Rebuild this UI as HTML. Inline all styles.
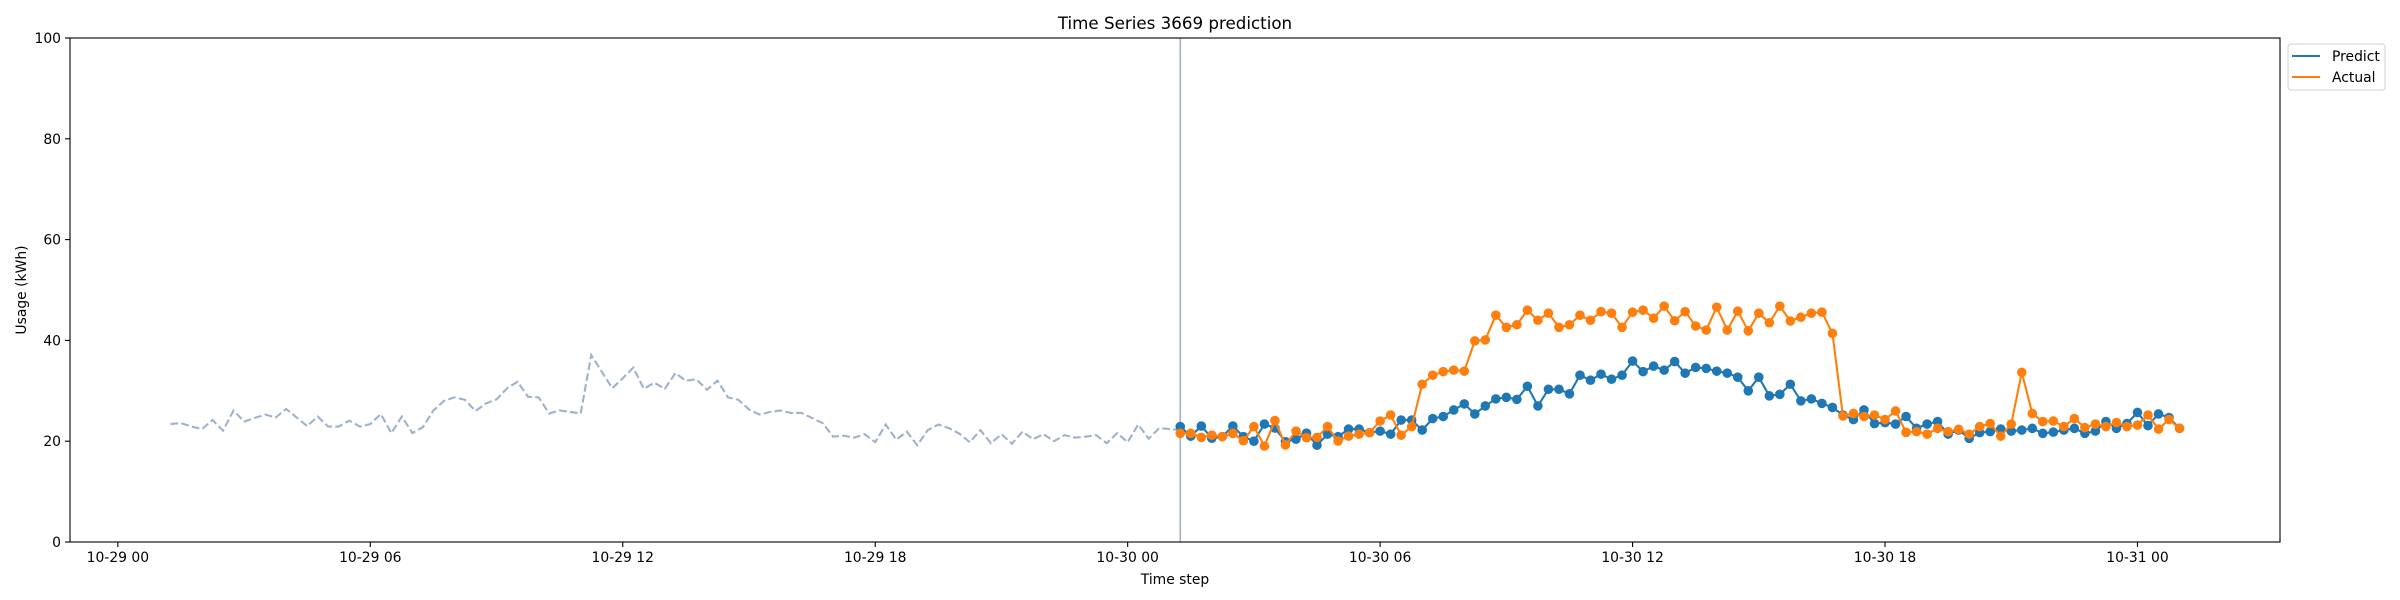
<!DOCTYPE html>
<html><head><meta charset="utf-8"><style>
html,body{margin:0;padding:0;background:#fff;}
svg{display:block;font-family:"DejaVu Sans","Liberation Sans",sans-serif;}
</style></head><body>
<svg id="chart" width="2400" height="600" viewBox="0 0 2400 600" xmlns="http://www.w3.org/2000/svg">
<rect x="0" y="0" width="2400" height="600" fill="#fff"/>
<text x="1175" y="29" text-anchor="middle" font-size="16.7" fill="#000">Time Series 3669 prediction</text>
<g id="grid"></g>
<g id="series"></g>
<rect x="70" y="38" width="2210" height="504" fill="none" stroke="#000" stroke-width="1.1"/>
<text x="1175" y="584" text-anchor="middle" font-size="13.9" fill="#000">Time step</text>
<text x="0" y="0" transform="translate(26,290) rotate(-90)" text-anchor="middle" font-size="13.9" fill="#000">Usage (kWh)</text>
<g>
<rect x="2288" y="44" width="97" height="46" rx="3" fill="#fff" stroke="#d0d0d0" stroke-width="1"/>
<line x1="2292" y1="56" x2="2320" y2="56" stroke="#1f77b4" stroke-width="2.1"/>
<text x="2332" y="61" font-size="13.9" fill="#000">Predict</text>
<line x1="2292" y1="77" x2="2320" y2="77" stroke="#ff7f0e" stroke-width="2.1"/>
<text x="2332" y="82" font-size="13.9" fill="#000">Actual</text>
</g>
</svg>
<script>
// data: hours since 10-29 00:00, 15-min steps
const historyStart = 1.25;
const forecastStart = 25.25;
const stepHours = 0.25;
const historyValues = [23.4,23.6,22.9,22.4,24.2,22.1,26.1,23.9,24.6,25.3,24.7,26.4,24.7,23.0,24.9,22.9,22.9,24.1,22.9,23.4,25.4,21.6,24.9,21.6,22.8,26.1,28.0,28.7,28.2,26.0,27.5,28.3,30.5,31.8,28.8,28.7,25.5,26.1,25.8,25.5,37.1,33.8,30.5,32.5,34.6,30.4,31.6,30.4,33.5,32.0,32.3,30.2,32.0,28.7,28.2,26.3,25.3,25.8,26.1,25.6,25.6,24.6,23.6,20.9,21.1,20.7,21.4,19.8,23.3,20.3,21.9,19.2,22.2,23.3,22.6,21.5,19.8,22.2,19.6,21.4,19.5,21.9,20.4,21.4,20.0,21.2,20.7,20.9,21.2,19.6,21.6,19.8,23.3,20.5,22.6,22.4,22.2];
const predictValues = [22.9,21.0,23.0,20.6,20.9,23.0,20.9,20.0,23.4,22.6,19.9,20.4,21.6,19.2,21.4,20.9,22.4,22.4,21.7,22.0,21.4,24.2,24.2,22.2,24.5,24.9,26.2,27.4,25.4,27.0,28.4,28.7,28.3,30.9,27.0,30.3,30.3,29.4,33.1,32.1,33.3,32.3,33.1,35.9,33.8,34.9,34.1,35.8,33.5,34.65,34.45,33.9,33.5,32.7,30.0,32.7,29.0,29.3,31.3,28.0,28.4,27.5,26.7,25.2,24.3,26.2,23.5,23.7,23.4,24.9,22.55,23.4,23.9,21.4,22.2,20.56,21.7,21.9,22.4,22.0,22.2,22.55,21.56,21.8,22.2,22.55,21.56,22.0,23.9,22.55,23.5,25.7,23.1,25.4,24.7,22.55];
const actualValues = [21.56,21.56,20.76,21.2,20.9,21.56,20.1,22.9,19.05,24.1,19.25,22.0,20.7,20.76,22.9,20.04,21.0,21.4,21.7,24.0,25.2,21.2,22.9,31.3,33.1,33.8,34.1,33.9,39.9,40.1,45.0,42.6,43.1,46.0,44.0,45.4,42.6,43.1,45.0,44.0,45.7,45.4,42.6,45.6,46.0,44.4,46.8,43.9,45.7,42.85,42.06,46.6,42.06,45.8,41.9,45.4,43.5,46.8,43.85,44.6,45.4,45.6,41.4,25.0,25.5,24.9,25.2,24.3,26.0,21.76,21.9,21.4,22.55,21.9,22.35,21.4,22.9,23.5,21.0,23.4,33.66,25.5,23.9,24.0,22.9,24.5,22.7,23.4,22.9,23.7,22.9,23.2,25.2,22.4,24.3,22.55];
const xTickHours = [0,6,12,18,24,30,36,42,48];
const xTickLabels = ["10-29 00","10-29 06","10-29 12","10-29 18","10-30 00","10-30 06","10-30 12","10-30 18","10-31 00"];
const yTickValues = [0,20,40,60,80,100];

const NS = "http://www.w3.org/2000/svg";
const L = 70, R = 2280, T = 38, B = 542;
const xMin = -1.1375, xMax = 51.3875, yMin = 0, yMax = 100;
function xScale(h){ return L + (h - xMin) / (xMax - xMin) * (R - L); }
function yScale(v){ return B - (v - yMin) / (yMax - yMin) * (B - T); }
function mk(tag, attrs){ const e = document.createElementNS(NS, tag); for (const k in attrs) e.setAttribute(k, attrs[k]); return e; }

const grid = document.getElementById('grid');
xTickHours.forEach((h, i) => {
  const x = xScale(h);
  const t = mk('line', {x1:x, y1:B, x2:x, y2:B+5, stroke:'#000', 'stroke-width':1.1});
  
  
  grid.appendChild(t);
  const lb = mk('text', {x:x, y:B+20, 'text-anchor':'middle', 'font-size':13.9, fill:'#000'});
  lb.textContent = xTickLabels[i];
  
  
  grid.appendChild(lb);
});
yTickValues.forEach(v => {
  const y = yScale(v);
  const t = mk('line', {x1:L-5, y1:y, x2:L, y2:y, stroke:'#000', 'stroke-width':1.1});
  
  
  grid.appendChild(t);
  const lb = mk('text', {x:L-9, y:y+5, 'text-anchor':'end', 'font-size':13.9, fill:'#000'});
  lb.textContent = String(v);
  
  
  grid.appendChild(lb);
});

const series = document.getElementById('series');
function pts(start, vals){ return vals.map((v, i) => xScale(start + i * stepHours).toFixed(2) + ',' + yScale(v).toFixed(2)).join(' '); }

const hist = mk('polyline', {points: pts(historyStart, historyValues), fill:'none', stroke:'#9fb1cc', 'stroke-width':2.1, 'stroke-dasharray':'7.7,3.3'});


series.appendChild(hist);

const vx = xScale(forecastStart);
const vline = mk('line', {x1:vx, y1:T, x2:vx, y2:B, stroke:'#a4aed0', 'stroke-width':1.6});


series.appendChild(vline);

function drawSeries(vals, color, name){
  const g = mk('g', {});
  
  
  const pl = mk('polyline', {points: pts(forecastStart, vals), fill:'none', stroke:color, 'stroke-width':2.1});
  
  
  g.appendChild(pl);
  vals.forEach((v, i) => {
    const c = mk('circle', {cx: xScale(forecastStart + i * stepHours), cy: yScale(v), r: 4.8, fill: color});
    
    
    g.appendChild(c);
  });
  series.appendChild(g);
}
drawSeries(predictValues, '#1f77b4', 'predict');
drawSeries(actualValues, '#ff7f0e', 'actual');
</script>
</body></html>
